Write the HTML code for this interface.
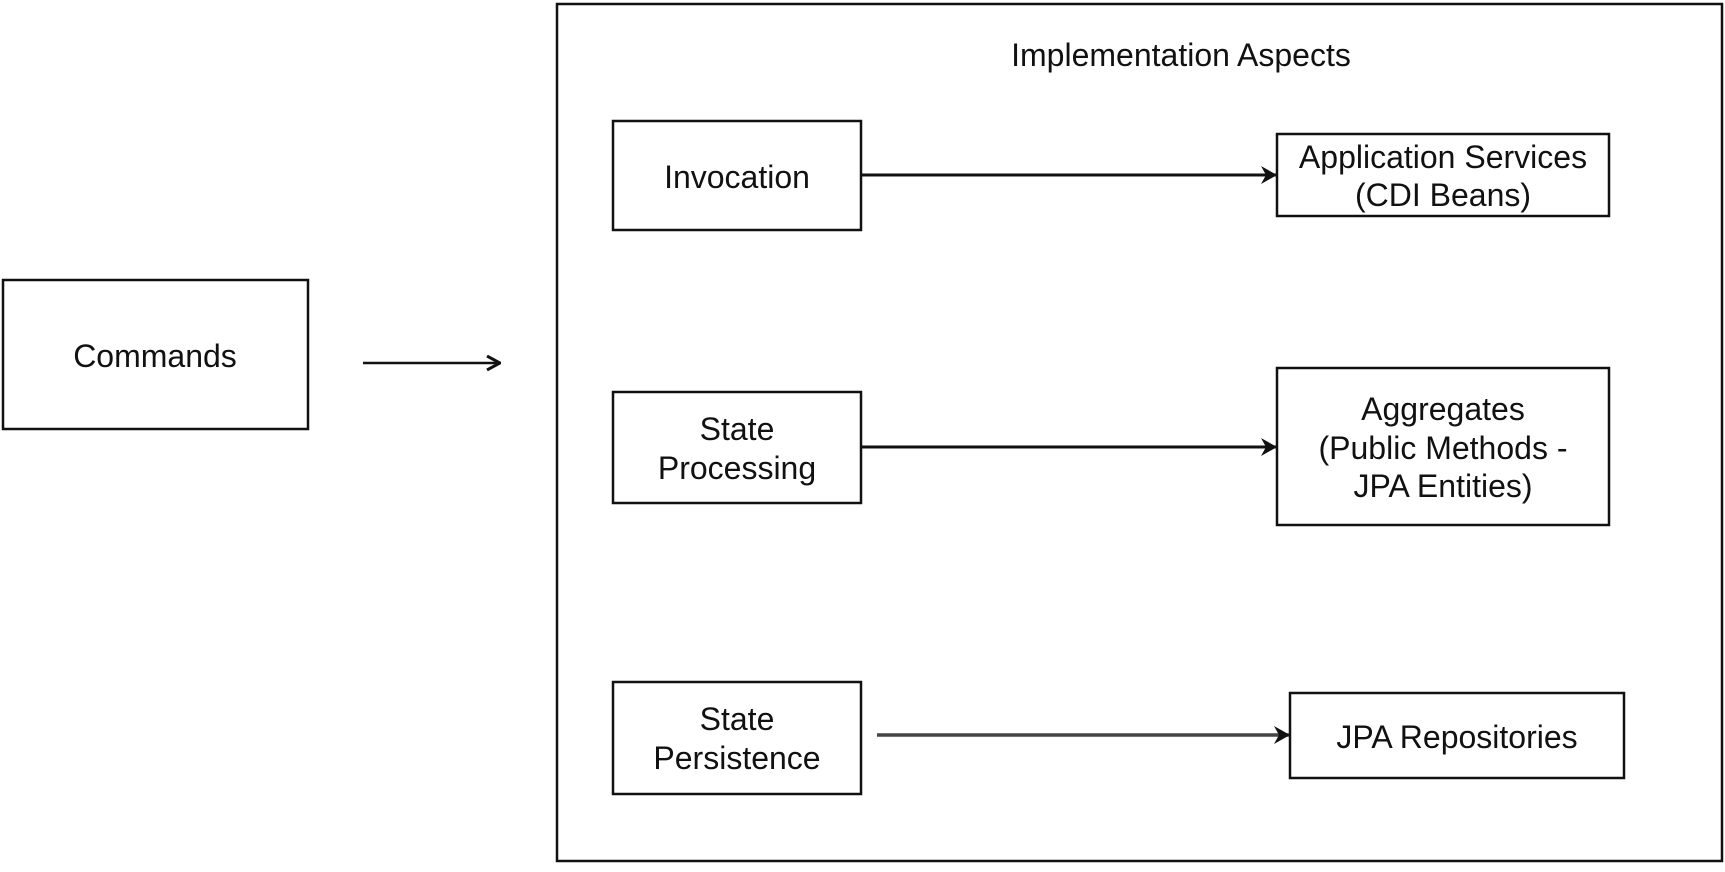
<!DOCTYPE html>
<html><head><style>
body{margin:0;background:#fff;}
svg text{font-family:"Liberation Sans",Arial,sans-serif;font-size:32px;fill:#111;text-anchor:middle;}
</style></head><body>
<svg width="1725" height="867" viewBox="0 0 1725 867" xmlns="http://www.w3.org/2000/svg">
<defs><marker id="a" markerWidth="16" markerHeight="18" refX="15" refY="9" orient="auto" markerUnits="userSpaceOnUse"><path d="M0,0 L16,9 L0,18 L5,9 z" fill="#111"/></marker>
<marker id="b" markerWidth="16" markerHeight="16" refX="15" refY="8" orient="auto" markerUnits="userSpaceOnUse"><path d="M2,1 L15,8 L2,15" fill="none" stroke="#111" stroke-width="3"/></marker></defs>
<g fill="none" stroke="#111" stroke-width="2.5">
<rect x="557" y="4" width="1165" height="857"/>
<rect x="3" y="280" width="305" height="149"/>
<rect x="613" y="121" width="248" height="109"/>
<rect x="1277" y="134" width="332" height="82"/>
<rect x="613" y="392" width="248" height="111"/>
<rect x="1277" y="368" width="332" height="157"/>
<rect x="613" y="682" width="248" height="112"/>
<rect x="1290" y="693" width="334" height="85"/>
<line x1="363" y1="363" x2="500" y2="363" marker-end="url(#b)"/>
<line x1="861" y1="175" x2="1276" y2="175" stroke-width="3" marker-end="url(#a)"/>
<line x1="861" y1="447" x2="1276" y2="447" stroke-width="3" marker-end="url(#a)"/>
<line x1="877" y1="735" x2="1289" y2="735" stroke="#444" stroke-width="3.5" marker-end="url(#a)"/>
</g>
<text x="1181" y="66">Implementation Aspects</text>
<text x="155" y="367">Commands</text>
<text x="737" y="188">Invocation</text>
<text x="1443" y="168">Application Services</text>
<text x="1443" y="206">(CDI Beans)</text>
<text x="737" y="440">State</text>
<text x="737" y="479">Processing</text>
<text x="1443" y="420">Aggregates</text>
<text x="1443" y="459">(Public Methods -</text>
<text x="1443" y="497">JPA Entities)</text>
<text x="737" y="730">State</text>
<text x="737" y="769">Persistence</text>
<text x="1457" y="748">JPA Repositories</text>
</svg>
</body></html>
